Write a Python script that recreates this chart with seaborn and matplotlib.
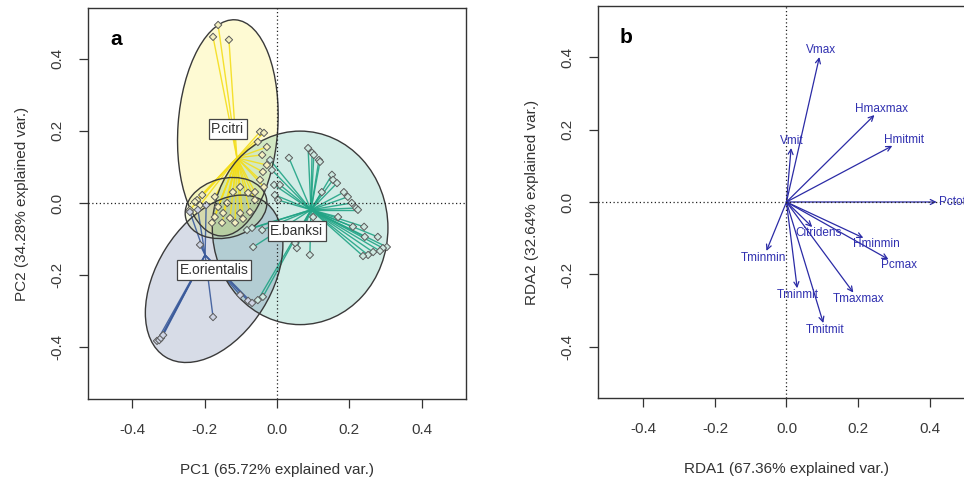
import numpy as np
import pandas as pd
import matplotlib
matplotlib.use("Agg")
import matplotlib.pyplot as plt
import seaborn as sns
from matplotlib.patches import Ellipse
from matplotlib.collections import LineCollection

# ---------------- panel a: PCA scores of individuals ----------------
species = ["P.citri", "E.banksi", "E.orientalis"]

pcitri_pc1 = [-0.163, -0.177, -0.133, -0.047, -0.036, -0.053, -0.028, -0.041, -0.028,
              -0.039, -0.047, -0.036, -0.061, -0.221, -0.207, -0.213, -0.172, -0.241,
              -0.227, -0.163, -0.138, -0.122, -0.172, -0.149, -0.130, -0.102, -0.180,
              -0.152, -0.116, -0.094, -0.075, -0.061, -0.080, -0.102]
pcitri_pc2 = [0.493, 0.460, 0.452, 0.197, 0.194, 0.169, 0.155, 0.133, 0.105,
              0.086, 0.064, 0.044, 0.030, 0.008, 0.022, -0.006, 0.017, -0.019,
              0.003, -0.011, 0.000, 0.030, -0.039, -0.028, -0.042, -0.028, -0.055,
              -0.055, -0.055, -0.044, -0.025, 0.008, 0.028, 0.044]

ebanksi_pc1 = [0.033, 0.086, 0.097, 0.102, 0.116, 0.119, 0.152, 0.155, 0.166, 0.124,
               0.185, 0.196, 0.207, 0.219, 0.224, 0.169, 0.210, 0.241, 0.243, 0.279,
               0.304, 0.293, 0.285, 0.266, 0.252, 0.238, 0.091, 0.055, 0.050, 0.100,
               -0.008, -0.006, 0.003, -0.066, -0.083, -0.069, -0.041, -0.039, -0.053,
               0.008, -0.014, -0.019]
ebanksi_pc2 = [0.125, 0.152, 0.139, 0.133, 0.119, 0.114, 0.078, 0.064, 0.055, 0.030,
               0.030, 0.017, 0.000, -0.014, -0.019, -0.039, -0.066, -0.066, -0.094, -0.094,
               -0.122, -0.125, -0.133, -0.136, -0.144, -0.147, -0.144, -0.125, -0.111, -0.039,
               0.050, 0.022, 0.008, -0.122, -0.075, -0.069, -0.075, -0.260, -0.269,
               0.050, 0.091, 0.119]

eorient_pc1 = [-0.332, -0.326, -0.321, -0.315, -0.177, -0.213, -0.219, -0.196, -0.241,
               -0.080, -0.069, -0.102]
eorient_pc2 = [-0.382, -0.380, -0.374, -0.366, -0.316, -0.116, -0.019, -0.006, -0.025,
               -0.271, -0.277, -0.255]

centroid_pc1 = [-0.111, 0.094, -0.199]
centroid_pc2 = [0.125, -0.019, -0.144]
label_pc1 = [-0.136, 0.055, -0.174]
label_pc2 = [0.205, -0.078, -0.186]

# confidence ellipses: centre, semi-axes and rotation (degrees)
ell_group = ["P.citri", "E.banksi", "E.orientalis", "P.citri"]
ell_cx = [-0.136, 0.064, -0.174, -0.141]
ell_cy = [0.208, -0.069, -0.210, -0.014]
ell_rx = [0.138, 0.243, 0.255, 0.115]
ell_ry = [0.300, 0.268, 0.158, 0.082]
ell_angle = [-4, 0, 58, 15]

# ---------------- panel b: RDA environmental vectors ----------------
env_vars = ["Vmax", "Hmaxmax", "Hmitmit", "Vmit", "Pctot", "Citridens",
            "Hminmin", "Pcmax", "Tmaxmax", "Tmitmit", "Tminmit", "Tminmin"]
rda1 = [0.092, 0.246, 0.296, 0.013, 0.420, 0.072, 0.215, 0.285, 0.187, 0.103, 0.030, -0.056]
rda2 = [0.400, 0.240, 0.155, 0.149, 0.000, -0.069, -0.099, -0.158, -0.250, -0.334, -0.238, -0.135]

ticks = [-0.4, -0.2, 0.0, 0.2, 0.4]
tick_text = ["-0.4", "-0.2", "0.0", "0.2", "0.4"]

line_col = {"P.citri": "#F4DE1C", "E.banksi": "#22A486", "E.orientalis": "#3A5A9B"}
fill_col = {"P.citri": "#FDE725", "E.banksi": "#22A486", "E.orientalis": "#3B528B"}
dot_col = {"P.citri": "#F3EFC0", "E.banksi": "#CDE8E0", "E.orientalis": "#CDD3E3"}
ell_fill = [fill_col["P.citri"], fill_col["E.banksi"], fill_col["E.orientalis"], "#D2E33A"]
ell_alpha = [0.2, 0.2, 0.2, 0.16]

sns.set_theme(style="white")
plt.rcParams["font.family"] = ["Liberation Sans", "DejaVu Sans"]

W, H = 964, 484
fig = plt.figure(figsize=(W / 100, H / 100), dpi=100)
axA = fig.add_axes([88 / W, (H - 399) / H, 378 / W, 391 / H])
axB = fig.add_axes([598 / W, (H - 398) / H, 378 / W, 392 / H])

def style_axes(ax, xlim, ylim, xlabel, ylabel, tag):
    ax.set_xlim(*xlim)
    ax.set_ylim(*ylim)
    ax.set_xticks(ticks)
    ax.set_xticklabels(tick_text)
    ax.set_yticks(ticks)
    ax.set_yticklabels(tick_text)
    for s in ax.spines.values():
        s.set_color("#333333")
        s.set_linewidth(1.0)
        s.set_visible(True)
    ax.tick_params(axis="both", direction="out", length=6.5, width=0.9, color="#333333",
                   labelsize=11, labelcolor="#3a3a3a", pad=10.5,
                   bottom=True, left=True, top=False, right=False)
    for lbl in ax.get_yticklabels():
        lbl.set_rotation(90)
        lbl.set_va("center")
    ax.set_xlabel(xlabel, fontsize=11, color="#333333")
    ax.set_ylabel(ylabel, fontsize=11, color="#333333")
    ax.xaxis.set_label_coords(0.5, -0.164)
    ax.yaxis.set_label_coords(-0.155, 0.5)
    ax.axhline(0, color="#222222", lw=0.9, ls=(0, (1, 2)), zorder=5)
    ax.axvline(0, color="#222222", lw=0.9, ls=(0, (1, 2)), zorder=5)
    ax.text(0.075, 0.92, tag, transform=ax.transAxes, fontsize=15, fontweight="bold",
            color="black", ha="center", va="center")

# ---- panel a ----
groups = {
    "P.citri": (pcitri_pc1, pcitri_pc2),
    "E.banksi": (ebanksi_pc1, ebanksi_pc2),
    "E.orientalis": (eorient_pc1, eorient_pc2),
}
rows = []
for g, (xs, ys) in groups.items():
    for x, y in zip(xs, ys):
        rows.append({"PC1": x, "PC2": y, "species": g})
scores = pd.DataFrame(rows)

for cx, cy, rx, ry, ang, fc, al in zip(ell_cx, ell_cy, ell_rx, ell_ry, ell_angle, ell_fill, ell_alpha):
    axA.add_patch(Ellipse((cx, cy), 2 * rx, 2 * ry, angle=ang, facecolor=fc,
                          alpha=al, edgecolor="none", zorder=1))

for i, g in enumerate(species):
    xs, ys = groups[g]
    segs = [[(centroid_pc1[i], centroid_pc2[i]), (x, y)] for x, y in zip(xs, ys)]
    axA.add_collection(LineCollection(segs, colors=line_col[g], linewidths=1.0,
                                      alpha=0.9, zorder=2))

sns.scatterplot(data=scores, x="PC1", y="PC2", hue="species", palette=dot_col,
                marker="D", s=14, edgecolor="#5a5a5a", linewidth=0.7, legend=False,
                ax=axA, zorder=4)

for cx, cy, rx, ry, ang in zip(ell_cx, ell_cy, ell_rx, ell_ry, ell_angle):
    axA.add_patch(Ellipse((cx, cy), 2 * rx, 2 * ry, angle=ang, facecolor="none",
                          edgecolor="#3a3a3a", linewidth=1.0, zorder=3))

for g, lx, ly in zip(species, label_pc1, label_pc2):
    axA.text(lx, ly, g, ha="center", va="center", fontsize=10, color="#333333", zorder=6,
             bbox=dict(boxstyle="square,pad=0.2", fc="white", ec="#444444", lw=0.9))

style_axes(axA, (-0.523, 0.523), (-0.543, 0.540),
           "PC1 (65.72% explained var.)", "PC2 (34.28% explained var.)", "a")

# ---- panel b ----
style_axes(axB, (-0.527, 0.530), (-0.541, 0.541),
           "RDA1 (67.36% explained var.)", "RDA2 (32.64% explained var.)", "b")

vec_col = "#2B2BA6"
txt_col = "#3030B0"
fig.canvas.draw()
renderer = fig.canvas.get_renderer()
origin_px = axB.transData.transform((0, 0))
for name, x, y in zip(env_vars, rda1, rda2):
    axB.annotate("", xy=(x, y), xytext=(0, 0),
                 arrowprops=dict(arrowstyle="->", color=vec_col, lw=0.9,
                                 mutation_scale=9, shrinkA=0, shrinkB=0), zorder=4)
    t = axB.text(x, y, name, ha="center", va="center", fontsize=8.5, color=txt_col, zorder=6)
    bb = t.get_window_extent(renderer)
    w, h = bb.width, bb.height * 0.85
    tip_px = axB.transData.transform((x, y))
    d = tip_px - origin_px
    u = d / np.hypot(*d)
    cand = []
    if abs(u[0]) > 1e-6:
        cand.append(w / 2 / abs(u[0]))
    if abs(u[1]) > 1e-6:
        cand.append(h / 2 / abs(u[1]))
    dist = min(cand) + 2
    pos = axB.transData.inverted().transform(tip_px + u * dist)
    t.set_position(pos)

fig.savefig("out.png", dpi=100)
